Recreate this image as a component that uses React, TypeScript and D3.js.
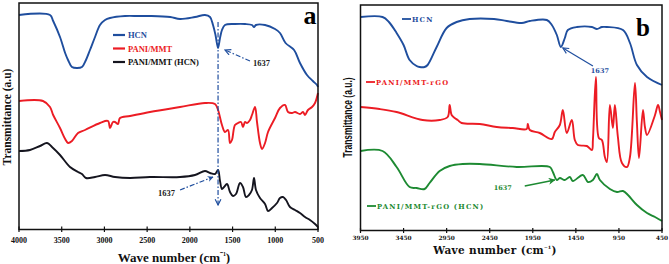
import React from "react";
import * as d3 from "d3";

const W = 669;
const H = 264;

const BLUE = "#1f4e9e";
const RED = "#ec1c24";
const BLACK = "#15151f";
const GREEN = "#1d8a32";

// ---------- panel a ----------
const LEFT_TICKS = [4000, 3500, 3000, 2500, 2000, 1500, 1000, 500];
const LEFT_SERIES_NAMES = ["HCN", "PANI/MMT", "PANI/MMT (HCN)"];

const HCN_A: [number, number][] = [
  [4000, 214], [3637, 214], [3600, 208], [3520, 192], [3460, 176], [3426, 169], [3380, 162], [3321, 161],
  [3263, 162], [3216, 169], [3169, 179], [3110, 192], [3052, 204], [2993, 209], [2935, 211], [2759, 213],
  [2600, 213], [2467, 213], [2230, 212], [2115, 210], [1940, 212], [1823, 214], [1764, 212], [1729, 204],
  [1700, 194], [1670, 181], [1647, 191], [1624, 199], [1589, 204], [1472, 205], [1354, 205], [1273, 204],
  [1249, 202], [1226, 204], [1120, 204], [1003, 200], [945, 196], [880, 186], [780, 179], [711, 166],
  [629, 154], [560, 148], [512, 144], [500, 142],
];

const PANI_MMT_A: [number, number][] = [
  [4000, 128], [3719, 128], [3637, 122], [3600, 114], [3520, 101], [3460, 90], [3426, 86], [3380, 88],
  [3309, 96], [3227, 99], [3052, 106], [2958, 108], [2935, 101], [2900, 107], [2876, 107], [2841, 105],
  [2818, 111], [2700, 113], [2467, 117], [2115, 122], [1823, 126], [1706, 125], [1670, 119], [1624, 104],
  [1589, 97], [1553, 99], [1530, 86], [1507, 89], [1472, 104], [1436, 106], [1401, 107], [1378, 102],
  [1354, 107], [1331, 106], [1296, 109], [1273, 114], [1237, 122], [1214, 107], [1179, 86], [1155, 80],
  [1120, 86], [1085, 97], [1003, 111], [945, 121], [886, 124], [851, 117], [804, 116], [769, 117],
  [711, 115], [675, 117], [652, 114], [617, 119], [570, 122], [535, 126], [500, 136],
];

const PANI_MMT_HCN_A: [number, number][] = [
  [4000, 78], [3871, 79], [3754, 83], [3672, 86], [3614, 82], [3520, 74], [3403, 62], [3309, 57],
  [3263, 55], [3216, 51], [3110, 52], [2993, 54], [2876, 52], [2701, 51], [2467, 52], [2115, 52],
  [1940, 54], [1823, 58], [1764, 56], [1706, 55], [1670, 59], [1647, 48], [1624, 40], [1600, 42],
  [1565, 45], [1530, 37], [1495, 33], [1460, 35], [1413, 46], [1378, 42], [1343, 32], [1308, 34],
  [1273, 39], [1249, 51], [1226, 39], [1179, 31], [1120, 25], [1085, 18], [1038, 21], [980, 26],
  [945, 31], [910, 32], [874, 29], [828, 22], [769, 19], [711, 16], [652, 12], [594, 9], [535, 5], [500, 2],
];

// ---------- panel b ----------
const RIGHT_TICKS = [3950, 3450, 2950, 2450, 1950, 1450, 950, 450];
const RIGHT_SERIES_NAMES = ["HCN", "PANI/MMT-rGO", "PANI/MMT-rGO (HCN)"];

const HCN_B: [number, number][] = [
  [3950, 213], [3694, 213], [3620, 208], [3531, 197], [3450, 185], [3380, 170], [3299, 164], [3264, 163],
  [3206, 163], [3171, 165], [3066, 183], [2950, 202], [2834, 208], [2683, 211], [2400, 211], [2252, 209],
  [2078, 207], [1985, 209], [1787, 210], [1729, 205], [1671, 195], [1624, 183], [1578, 192], [1543, 200],
  [1438, 203], [1264, 203], [1206, 201], [1148, 203], [1090, 203], [903, 200], [822, 187], [741, 165],
  [624, 153], [450, 145],
];

const PANI_MMT_RGO_B: [number, number][] = [
  [3950, 123], [3729, 121], [3531, 118], [3229, 110], [3031, 110], [2938, 113], [2915, 125], [2892, 115],
  [2857, 112], [2822, 110], [2776, 107], [2566, 106], [2369, 103], [2183, 102], [2020, 101], [2008, 106],
  [1985, 100], [1869, 97], [1729, 91], [1694, 98], [1636, 105], [1601, 120], [1555, 97], [1497, 110],
  [1462, 90], [1427, 85], [1322, 84], [1264, 80], [1252, 90], [1217, 153], [1183, 92], [1148, 90],
  [1113, 73], [1090, 68], [1055, 125], [1020, 102], [997, 125], [962, 93], [915, 67], [857, 63],
  [822, 73], [764, 147], [741, 107], [717, 72], [671, 120], [648, 103], [624, 95], [531, 115],
  [496, 125], [473, 118], [450, 110],
];

const PANI_MMT_RGO_HCN_B: [number, number][] = [
  [3950, 79], [3694, 79], [3531, 63], [3380, 43], [3299, 42], [3206, 41], [3148, 47], [3031, 59],
  [2915, 64], [2764, 66], [2566, 66], [2136, 63], [1752, 63], [1717, 58], [1671, 50], [1636, 52],
  [1578, 50], [1520, 53], [1485, 49], [1369, 55], [1310, 48], [1252, 50], [1206, 56], [1171, 50],
  [1055, 41], [973, 38], [903, 39], [845, 35], [741, 25], [624, 17], [531, 13], [450, 9],
];

const PEAK_LABEL = "1637";

const serifA = "'Liberation Serif', 'Times New Roman', serif";
const serifB = "'DejaVu Serif', serif";

export default function App() {
  // panel a scales
  const xA = d3.scaleLinear().domain([4000, 500]).range([19, 318]);
  const yA = d3.scaleLinear().domain([0, 226]).range([229, 3]);
  // panel b scales
  const xB = d3.scaleLinear().domain([3950, 450]).range([360.5, 662]);
  const yB = d3.scaleLinear().domain([0, 225]).range([230, 5]);

  const lineA = d3
    .line<[number, number]>()
    .x((d) => xA(d[0]))
    .y((d) => yA(d[1]))
    .curve(d3.curveCatmullRom.alpha(0.5));
  const lineB = d3
    .line<[number, number]>()
    .x((d) => xB(d[0]))
    .y((d) => yB(d[1]))
    .curve(d3.curveCatmullRom.alpha(0.5));

  const sw = 1.9;

  return (
    <svg
      width={W}
      height={H}
      viewBox={`0 0 ${W} ${H}`}
      style={{ position: "absolute", left: 0, top: 0, background: "#fff" }}
    >
      <defs>
        <marker id="arrBlueOpen" viewBox="0 0 10 10" refX="9" refY="5" markerWidth="6" markerHeight="6" orient="auto">
          <path d="M1,1 L9,5 L1,9" fill="none" stroke={BLUE} strokeWidth="1.6" />
        </marker>
        <marker id="arrBlueFill" viewBox="0 0 10 10" refX="9" refY="5" markerWidth="5" markerHeight="5" orient="auto">
          <path d="M0,0 L10,5 L0,10 L3,5 Z" fill={BLUE} />
        </marker>
        <marker id="arrGreen" viewBox="0 0 10 10" refX="9" refY="5" markerWidth="5" markerHeight="5" orient="auto">
          <path d="M0,0 L10,5 L0,10 L3,5 Z" fill={GREEN} />
        </marker>
      </defs>

      {/* ================= Panel a ================= */}
      <g>
        <path d={lineA(HCN_A) || ""} fill="none" stroke={BLUE} strokeWidth={sw} />
        <path d={lineA(PANI_MMT_A) || ""} fill="none" stroke={RED} strokeWidth={sw} />
        <path d={lineA(PANI_MMT_HCN_A) || ""} fill="none" stroke={BLACK} strokeWidth={sw} />

        {/* vertical dash-dot marker */}
        <line
          x1={xA(1670)}
          x2={xA(1670)}
          y1={yA(207)}
          y2={yA(24)}
          stroke={BLUE}
          strokeWidth={1.2}
          strokeDasharray="5,2,1.5,2"
          markerEnd="url(#arrBlueOpen)"
        />
        {/* top annotation */}
        <line
          x1={xA(1296)}
          y1={yA(168)}
          x2={xA(1589)}
          y2={yA(179)}
          stroke={BLUE}
          strokeWidth={1.2}
          strokeDasharray="5,2,1.5,2"
          markerEnd="url(#arrBlueOpen)"
        />
        <text x={xA(1261)} y={yA(163)} fontFamily={serifA} fontWeight="bold" fontSize={8.5} fill="#222">
          {PEAK_LABEL}
        </text>
        {/* bottom annotation */}
        <line
          x1={xA(2115)}
          y1={yA(39)}
          x2={xA(1729)}
          y2={yA(52)}
          stroke={BLUE}
          strokeWidth={1.2}
          strokeDasharray="5,2,1.5,2"
          markerEnd="url(#arrBlueFill)"
        />
        <text x={xA(2373)} y={yA(33)} fontFamily={serifA} fontWeight="bold" fontSize={8.5} fill="#222">
          {PEAK_LABEL}
        </text>

        {/* legend */}
        {LEFT_SERIES_NAMES.map((name, i) => {
          const c = [BLUE, RED, BLACK][i];
          const y = 35 + i * 13.5;
          return (
            <g key={name}>
              <line x1={113} x2={125} y1={y} y2={y} stroke={c} strokeWidth={2.2} />
              <text x={128} y={y + 3} fontFamily={serifA} fontWeight="bold" fontSize={8.5} fill={i === 2 ? "#111" : c}>
                {name}
              </text>
            </g>
          );
        })}

        {/* frame */}
        <rect x={19} y={3} width={299} height={226.5} fill="none" stroke="#111" strokeWidth={1.5} />
        {/* ticks */}
        {LEFT_TICKS.map((t) => (
          <g key={t}>
            <line x1={xA(t)} x2={xA(t)} y1={226.5} y2={232} stroke="#111" strokeWidth={1.2} />
            <text
              x={xA(t)}
              y={243}
              textAnchor="middle"
              fontFamily={serifA}
              fontWeight="bold"
              fontSize={8}
              fill="#111"
            >
              {t}
            </text>
          </g>
        ))}
        <text x={174} y={262} textAnchor="middle" fontFamily={serifA} fontWeight="bold" fontSize={13} fill="#111">
          Wave number (cm<tspan dy={-4} fontSize={9}>⁻¹</tspan>
          <tspan dy={4}>)</tspan>
        </text>
        <text
          transform="translate(10.5,117) rotate(-90)"
          textAnchor="middle"
          fontFamily={serifA}
          fontWeight="bold"
          fontSize={11.5}
          fill="#111"
        >
          Transmittance (a.u)
        </text>
        <text x={310} y={24} textAnchor="middle" fontFamily={serifA} fontWeight="bold" fontSize={26} fill="#000">
          a
        </text>
      </g>

      {/* ================= Panel b ================= */}
      <g>
        <path d={lineB(HCN_B) || ""} fill="none" stroke={BLUE} strokeWidth={sw} />
        <path d={lineB(PANI_MMT_RGO_B) || ""} fill="none" stroke={RED} strokeWidth={sw} />
        <path d={lineB(PANI_MMT_RGO_HCN_B) || ""} fill="none" stroke={GREEN} strokeWidth={sw} />

        {/* annotations */}
        <line
          x1={xB(1252)}
          y1={yB(164)}
          x2={xB(1601)}
          y2={yB(182)}
          stroke={BLUE}
          strokeWidth={1.2}
          markerEnd="url(#arrBlueOpen)"
        />
        <text
          x={xB(1171)}
          y={yB(157)}
          textAnchor="middle"
          fontFamily={serifB}
          fontWeight="bold"
          fontSize={6.5}
          fill={BLUE}
        >
          {PEAK_LABEL}
        </text>
        <line
          x1={xB(2043)}
          y1={yB(44)}
          x2={xB(1694)}
          y2={yB(50)}
          stroke={GREEN}
          strokeWidth={1.4}
          markerEnd="url(#arrGreen)"
        />
        <text
          x={xB(2299)}
          y={yB(40)}
          textAnchor="middle"
          fontFamily={serifB}
          fontWeight="bold"
          fontSize={6.5}
          fill={GREEN}
        >
          {PEAK_LABEL}
        </text>

        {/* inline legends */}
        {RIGHT_SERIES_NAMES.map((name, i) => {
          const c = [BLUE, RED, GREEN][i];
          const pos = [
            [402, 19],
            [366, 82],
            [367, 206],
          ][i];
          return (
            <g key={name}>
              <line x1={pos[0]} x2={pos[0] + 9} y1={pos[1]} y2={pos[1]} stroke={c} strokeWidth={1.8} />
              <text
                x={pos[0] + 10}
                y={pos[1] + 2.5}
                fontFamily={serifB}
                fontWeight="bold"
                fontSize={6.8}
                letterSpacing={1.2}
                fill={c}
              >
                {name}
              </text>
            </g>
          );
        })}

        {/* frame */}
        <rect x={360.5} y={5} width={301.5} height={225.5} fill="none" stroke="#111" strokeWidth={1.5} />
        {RIGHT_TICKS.map((t) => (
          <g key={t}>
            <line x1={xB(t)} x2={xB(t)} y1={228} y2={233} stroke="#111" strokeWidth={1.2} />
            <text
              x={xB(t)}
              y={240}
              textAnchor="middle"
              fontFamily={serifB}
              fontWeight="bold"
              fontSize={5.8}
              fill="#111"
            >
              {t}
            </text>
          </g>
        ))}
        <text
          x={495}
          y={254}
          textAnchor="middle"
          fontFamily={serifB}
          fontWeight="bold"
          fontSize={10.5}
          letterSpacing={0.3}
          fill="#111"
        >
          Wave number (cm<tspan dy={-3.5} fontSize={7}>⁻¹</tspan>
          <tspan dy={3.5}>)</tspan>
        </text>
        <text
          transform="translate(351.5,117.5) rotate(-90) scale(0.68,1)"
          textAnchor="middle"
          fontFamily="'Liberation Sans', Arial, sans-serif"
          fontWeight="bold"
          fontSize={12.5}
          fill="#111"
        >
          Transmittance (a.u.)
        </text>
        <text x={643} y={36} textAnchor="middle" fontFamily={serifA} fontWeight="bold" fontSize={25} fill="#000">
          b
        </text>
      </g>
    </svg>
  );
}
